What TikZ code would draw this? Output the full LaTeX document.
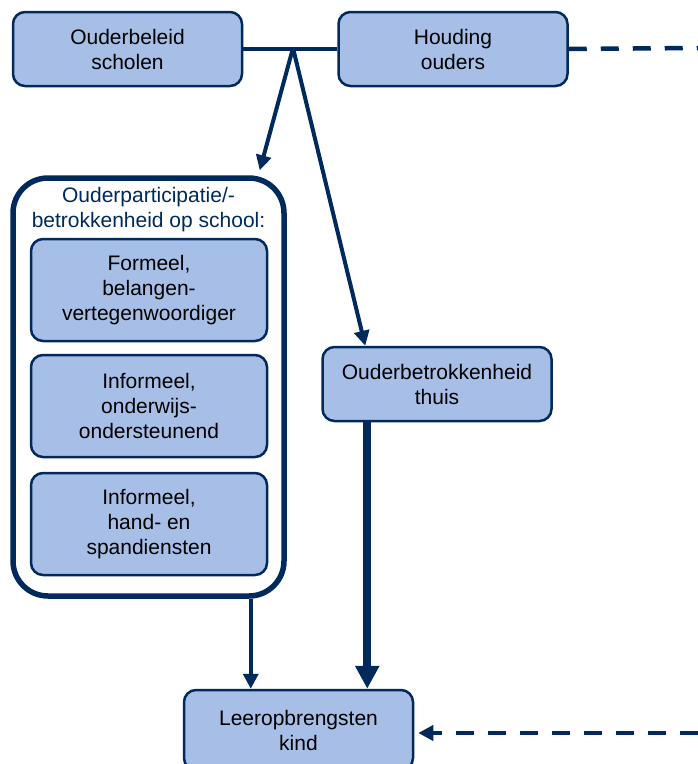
\documentclass[tikz,border=0pt]{standalone}
\usepackage{fontspec}
\setmainfont{Liberation Sans}
\usetikzlibrary{arrows.meta}
\definecolor{navy}{HTML}{002A5C}
\definecolor{boxblue}{HTML}{A7BFE6}

\begin{document}
\begin{tikzpicture}[x=1pt,y=-1pt,font=\fontsize{21}{25}\selectfont]
\tikzset{factor/.style=
            {draw=navy, line width=2.5pt, fill=boxblue, rounded corners=12pt,
             align=center, inner sep=0pt, minimum width=229pt, minimum height=74pt},
         subfactor/.style=
            {factor, minimum width=236pt, minimum height=102pt},
         group/.style=
            {draw=navy, line width=5.5pt, fill=white, rounded corners=35pt,
             inner sep=0pt, minimum width=271pt, minimum height=418pt},
         link/.style=
            {navy, line width=4pt, -{Triangle[width=15pt,length=15pt]}},
         mainlink/.style=
            {navy, line width=8pt, -{Triangle[width=23pt,length=23pt]}},
         extern/.style=
            {navy, line width=4.5pt, dash pattern=on 18pt off 14pt}}
\useasboundingbox (0,0) rectangle (698,764);
\node[factor] (beleid) at (127.5,49) {Ouderbeleid\\scholen};
\node[factor] (houding) at (453,49) {Houding\\ouders};
\node[group] (school) at (148.5,387) {};
\node[navy, align=center] (schooltitle) at (148.5,210) {Ouderparticipatie/-\\betrokkenheid op school:};
\node[subfactor] (formeel) at (149,290) {Formeel,\\belangen-\\vertegenwoordiger};
\node[subfactor] (onderwijs) at (149,406) {Informeel,\\onderwijs-\\ondersteunend};
\node[subfactor] (hand) at (149,524) {Informeel,\\hand- en\\spandiensten};
\node[factor] (thuis) at (437,384) {Ouderbetrokkenheid\\thuis};
\node[factor, minimum height=80pt] (leer) at (298.5,730) {Leeropbrengsten\\kind};
\coordinate (split) at (293,48);
\coordinate (schoolin) at ([xshift=-27pt,yshift=5pt]school.north east);
\coordinate (thuisin) at ([xshift=44pt]thuis.north west);
\coordinate (thuisout) at ([xshift=46pt]thuis.south west);
\coordinate (schoolout) at ([xshift=-36pt]school.south east);
\coordinate (rightup) at (698,48);
\coordinate (rightdown) at (698,733);
\draw[navy, line width=4.5pt] (beleid.east) -- (houding.west);
\draw[link] (split) -- (schoolin);
\draw[link] (split) -- (thuisin);
\draw[mainlink] (thuisout) -- (thuisout |- leer.north);
\draw[link] (schoolout) -- (schoolout |- leer.north);
\draw[extern] (houding.east) -- (rightup);
\draw[extern, -{Triangle[width=15pt,length=15pt]}, shorten >=4pt] (rightdown) -- (leer.east |- rightdown);
\end{tikzpicture}
\end{document}
